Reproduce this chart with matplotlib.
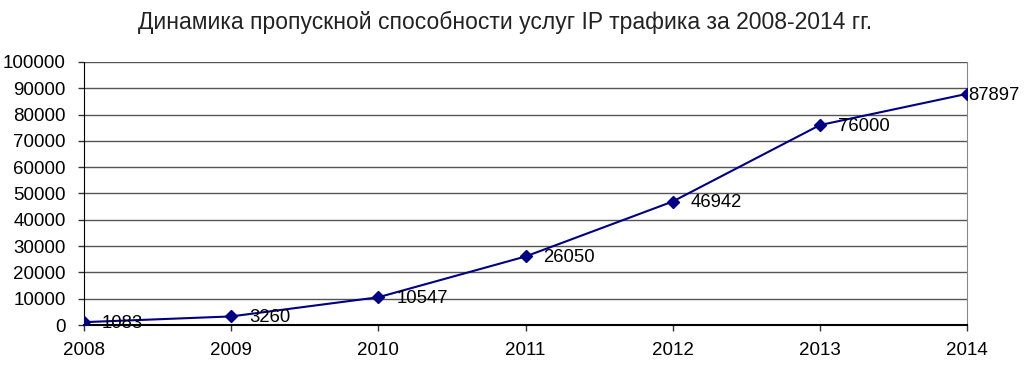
import matplotlib
matplotlib.use("Agg")
import matplotlib.pyplot as plt

years = [2008, 2009, 2010, 2011, 2012, 2013, 2014]
values = [1083, 3260, 10547, 26050, 46942, 76000, 87897]
yticks = list(range(0, 100001, 10000))
title = "Динамика пропускной способности услуг IP трафика за 2008-2014 гг."

plt.rcParams['font.family'] = ['Liberation Sans', 'DejaVu Sans']

fig = plt.figure(figsize=(10.24, 3.82), dpi=100)
ax = fig.add_axes([84/1024, 1-325/382, (967-84)/1024, (325-62)/382])

for t in yticks[1:]:
    ax.axhline(t, color='#555555', lw=1.0, zorder=1)

ax.plot(years, values, color='#000080', lw=1.5, marker='D', markersize=6,
        markerfacecolor='#000080', markeredgecolor='#000080', zorder=3)
for i, (x, v) in enumerate(zip(years, values)):
    dx = 1 if i == len(years) - 1 else 13
    ax.annotate(str(v), (x, v), xytext=(dx, -1), textcoords='offset points',
                ha='left', va='center', fontsize=13.3, color='black', zorder=4,
                annotation_clip=False)

ax.set_xlim(2008, 2014)
ax.set_ylim(0, 100000)
ax.set_xticks(years)
ax.set_yticks(yticks)
ax.tick_params(axis='both', labelsize=13.5, length=4, width=1, color='#333333')
ax.tick_params(axis='x', pad=8)
ax.tick_params(axis='y', pad=9)
ax.spines['top'].set_visible(False)
ax.spines['right'].set_color('#888888')
ax.spines['left'].set_color('black')
ax.spines['bottom'].set_color('black')
ax.spines['bottom'].set_linewidth(1.5)

fig.text(505/1024, 1-22/382, title, ha='center', va='center', fontsize=16.5,
         color='#222222')

fig.savefig('out.png', dpi=100)
